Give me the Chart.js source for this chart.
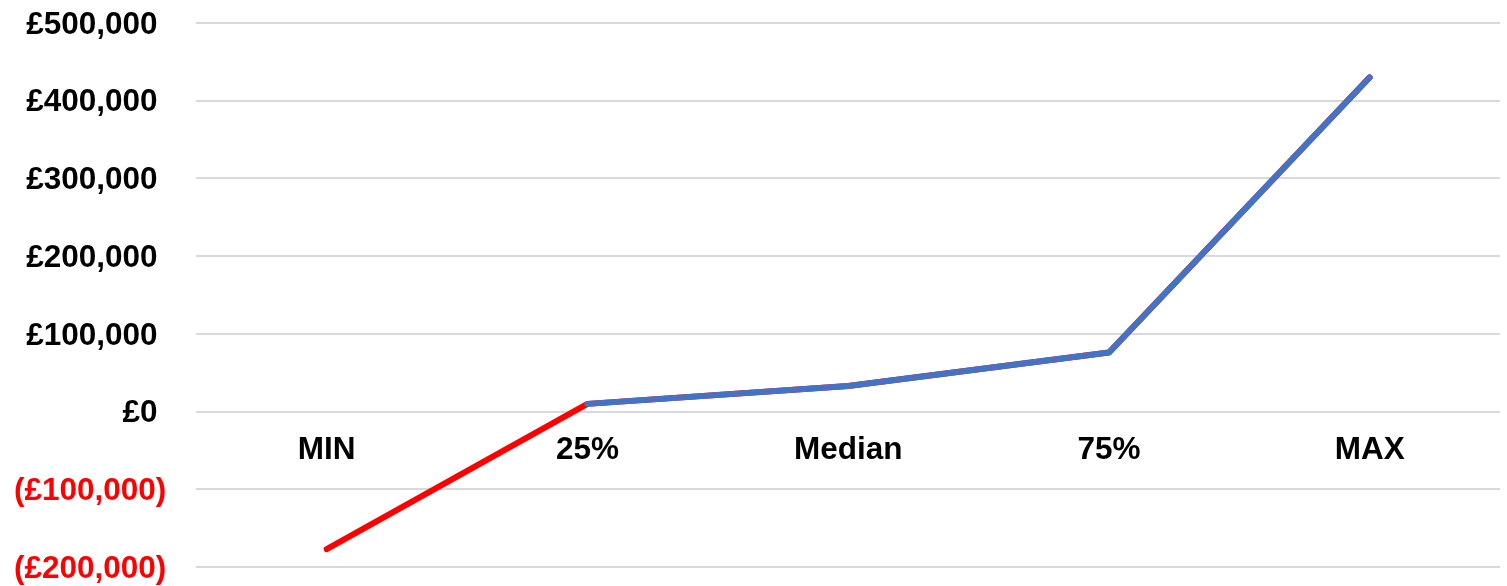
<!DOCTYPE html>
<html>
<head>
<meta charset="utf-8">
<script src="https://cdn.jsdelivr.net/npm/chart.js@4/dist/chart.umd.min.js"></script>
<style>
  html, body { margin: 0; padding: 0; background: #ffffff; }
  #wrap { width: 1507px; height: 586px; }
</style>
</head>
<body>
<div id="wrap"><canvas id="chart" width="1507" height="586"></canvas></div>
<script>
// Distribution points along the x axis
const categories = ['MIN', '25%', 'Median', '75%', 'MAX'];
// Full range of outcomes (drawn in red underneath)
const fullValues = [-177000, 10000, 33000, 76000, 430000];
// Non-negative part of the range (drawn in blue on top)
const upperValues = [null, 10000, 33000, 76000, 430000];
// Value axis
const yMin = -200000;
const yMax = 500000;
const yStep = 100000;

const FONT = '"Liberation Sans", Arial, sans-serif';

function money(v) {
  const s = '£' + Math.abs(v).toLocaleString('en-GB');
  return v < 0 ? '(' + s + ')' : s + '\u00A0';
}

new Chart(document.getElementById('chart'), {
  type: 'line',
  data: {
    labels: categories,
    datasets: [
      {
        label: 'Upper',
        data: upperValues,
        borderColor: '#4472C4',
        borderWidth: 6,
        borderCapStyle: 'round',
        borderJoinStyle: 'round',
        pointRadius: 0,
        tension: 0,
        spanGaps: false
      },
      {
        label: 'Range',
        data: fullValues,
        borderColor: '#FF0000',
        borderWidth: 6,
        borderCapStyle: 'round',
        borderJoinStyle: 'round',
        pointRadius: 0,
        tension: 0
      }
    ]
  },
  options: {
    responsive: false,
    animation: false,
    layout: { padding: { left: 14, right: 7, top: 23, bottom: 18 } },
    plugins: {
      legend: { display: false },
      tooltip: { enabled: false }
    },
    scales: {
      x: {
        position: { y: 0 },
        offset: true,
        grid: { display: false, drawTicks: false },
        border: { display: false },
        ticks: {
          padding: 20,
          color: '#000000',
          font: { family: FONT, size: 31.5, weight: 'bold' },
          maxRotation: 0
        }
      },
      y: {
        min: yMin,
        max: yMax,
        grid: {
          color: '#d9d9d9',
          lineWidth: 2,
          drawTicks: true,
          tickLength: 30,
          tickColor: 'rgba(0,0,0,0)'
        },
        border: { display: false },
        ticks: {
          stepSize: yStep,
          padding: 0,
          labelOffset: 2,
          color: (ctx) => (ctx.tick && ctx.tick.value < 0 ? '#FF0000' : '#000000'),
          font: { family: FONT, size: 31.5, weight: 'bold' },
          callback: (v) => money(v)
        }
      }
    }
  }
});
</script>
</body>
</html>
